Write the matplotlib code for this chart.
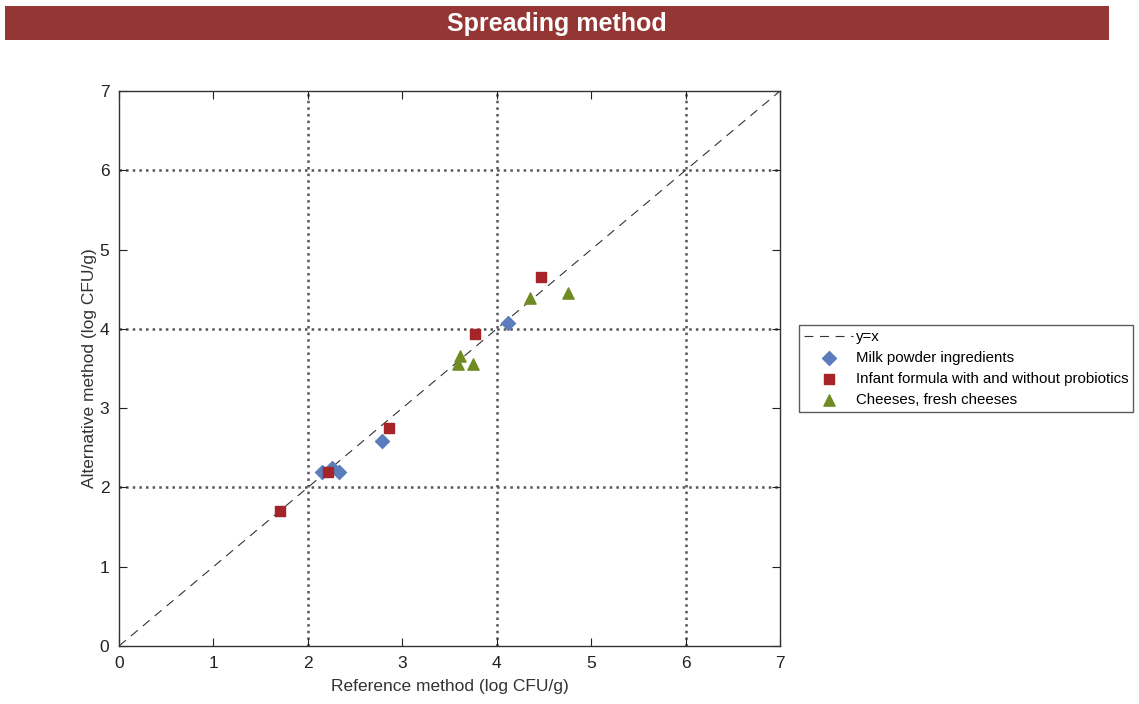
import matplotlib.pyplot as plt
from matplotlib.patches import Rectangle

plt.rcParams['font.family'] = ['Liberation Sans', 'DejaVu Sans']

# data (log CFU/g)
milk_ref = [2.15, 2.26, 2.33, 2.79, 4.12]
milk_alt = [2.20, 2.24, 2.20, 2.59, 4.08]
infant_ref = [1.70, 2.21, 2.86, 3.77, 4.47]
infant_alt = [1.70, 2.20, 2.75, 3.93, 4.66]
cheese_ref = [3.61, 3.59, 3.75, 4.35, 4.76]
cheese_alt = [3.66, 3.56, 3.56, 4.39, 4.45]
grid_vals = [2, 4, 6]
ticks = list(range(0, 8))

fig = plt.figure(figsize=(11.39, 7.04), dpi=100)

# title banner
fig.patches.append(Rectangle((5 / 1139, 1 - 40 / 704), 1104 / 1139, 34 / 704,
                             transform=fig.transFigure, facecolor='#943634',
                             edgecolor='none'))
fig.text(557 / 1139, 1 - 24 / 704, 'Spreading method', color='white',
         fontsize=18, fontweight='bold', ha='center', va='center')

ax = fig.add_axes([119 / 1139, 1 - 646 / 704, 661 / 1139, 555 / 704])

for v in grid_vals:
    ax.axhline(v, color='#555555', linestyle=':', linewidth=1.8, zorder=1)
    ax.axvline(v, color='#555555', linestyle=':', linewidth=1.8, zorder=1)

ax.plot([0, 7], [0, 7], color='#333333', linestyle=(0, (8, 6)), linewidth=0.8,
        label='y=x', zorder=2)
ax.scatter(milk_ref, milk_alt, marker='D', s=50, color='#5b7dbd',
           label='Milk powder ingredients', zorder=3)
ax.scatter(infant_ref, infant_alt, marker='s', s=42, color='#a52428',
           label='Infant formula with and without probiotics', zorder=3)
ax.scatter(cheese_ref, cheese_alt, marker='^', s=65, color='#6f8c22',
           label='Cheeses, fresh cheeses', zorder=3)

ax.set_xlim(0, 7)
ax.set_ylim(0, 7)
ax.set_xticks(ticks)
ax.set_yticks(ticks)
ax.tick_params(direction='in', top=True, right=True, labelsize=12.5,
               length=6, colors='#222222', pad=7)
for s in ax.spines.values():
    s.set_color('#333333')
    s.set_linewidth(1.0)
ax.set_xlabel('Reference method (log CFU/g)', fontsize=12.5, color='#333333',
              labelpad=6)
ax.set_ylabel('Alternative method (log CFU/g)', fontsize=12.5, color='#333333',
              labelpad=2)

leg = ax.legend(loc='center left', bbox_to_anchor=(1.028, 0.5), fontsize=10.8,
                frameon=True, fancybox=False, edgecolor='#333333',
                handlelength=3.3, handletextpad=0.15, borderpad=0.35,
                labelspacing=0.45, borderaxespad=0, scatterpoints=1)
leg.get_frame().set_linewidth(1.0)

fig.savefig('out.png', dpi=100)
